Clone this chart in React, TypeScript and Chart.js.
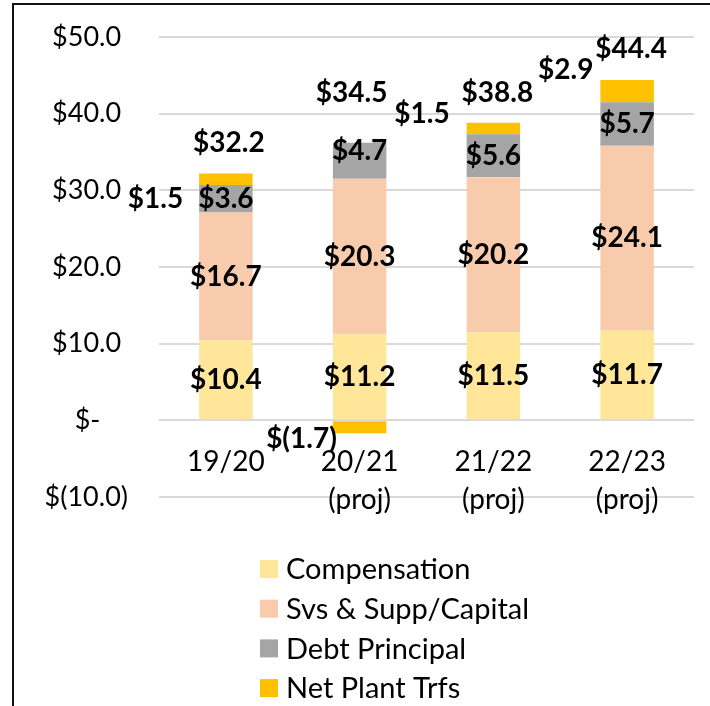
import React, { useEffect, useRef } from 'react';
import { Chart, registerables } from 'chart.js';

Chart.register(...registerables);

// ---- data ----
const categories: (string | string[])[] = ['19/20', ['20/21', '(proj)'], ['21/22', '(proj)'], ['22/23', '(proj)']];
const compensation = [10.4, 11.2, 11.5, 11.7];
const svsSuppCapital = [16.7, 20.3, 20.2, 24.1];
const debtPrincipal = [3.6, 4.7, 5.6, 5.7];
const netPlantTrfs = [1.5, -1.7, 1.5, 2.9];
const seriesNames = ['Compensation', 'Svs & Supp/Capital', 'Debt Principal', 'Net Plant Trfs'];
const yMin = -10;
const yMax = 50;
const yStep = 10;

// ---- style ----
const seriesColors = ['#FFE699', '#F8CBAD', '#A5A5A5', '#FFC000'];
const FONT = 'Lato, "Open Sans", sans-serif';

// label nudges (px)
const netPlantLabelDX = [-16, 4, -17, -7];
const netPlantLabelDY = [20, 12, -15, -21];
const totalLabelDX = [3, -8, 4, 4];
const totalLabelDY = [-30, -50, -30, -31];
const segLabelDY = [
  [0, 0, 0, 0],
  [0, 0, 0, 0],
  [0, -10, 0, 0],
];

const fmt = (v: number) => (v < 0 ? `$(${Math.abs(v).toFixed(1)})` : `$${v.toFixed(1)}`);

const framePlugin = {
  id: 'frame',
  beforeDraw(chart: any) {
    const { ctx, width, height } = chart;
    ctx.save();
    ctx.fillStyle = '#ffffff';
    ctx.fillRect(0, 0, width, height);
    ctx.fillStyle = '#111111';
    ctx.fillRect(12, 3, 2, height);
    ctx.fillRect(12, 3, width, 2);
    ctx.restore();
  },
};

const labelPlugin = {
  id: 'valueLabels',
  afterDatasetsDraw(chart: any) {
    const ctx = chart.ctx;
    ctx.save();
    ctx.font = `bold 28px ${FONT}`;
    ctx.fillStyle = '#000000';
    ctx.textBaseline = 'middle';
    chart.data.datasets.forEach((ds: any, di: number) => {
      const meta = chart.getDatasetMeta(di);
      meta.data.forEach((bar: any, i: number) => {
        const { x, y, base, width } = bar.getProps(['x', 'y', 'base', 'width'], true);
        const v = ds.data[i];
        const cy = (y + base) / 2;
        if (di === 3) {
          ctx.textAlign = 'right';
          ctx.fillText(fmt(v), x - width / 2 + netPlantLabelDX[i], cy + netPlantLabelDY[i]);
        } else {
          ctx.textAlign = 'center';
          ctx.fillText(fmt(v), x, cy + segLabelDY[di][i]);
        }
      });
    });
    const yScale = chart.scales.y;
    const meta0 = chart.getDatasetMeta(0);
    categories.forEach((_, i) => {
      const vals = chart.data.datasets.map((ds: any) => ds.data[i] as number);
      const total = vals.reduce((a: number, b: number) => a + b, 0);
      const posTop = vals.filter((v: number) => v > 0).reduce((a: number, b: number) => a + b, 0);
      const x = meta0.data[i].x;
      ctx.textAlign = 'center';
      ctx.fillText(fmt(total), x + totalLabelDX[i], yScale.getPixelForValue(posTop) + totalLabelDY[i]);
    });
    ctx.restore();
  },
};

const legendPlugin = {
  id: 'verticalLegend',
  afterDraw(chart: any) {
    const { ctx, chartArea } = chart;
    ctx.save();
    ctx.font = `29px ${FONT}`;
    ctx.textBaseline = 'middle';
    ctx.textAlign = 'left';
    chart.data.datasets.forEach((ds: any, i: number) => {
      const cy = chartArea.bottom + 72 + i * 39.7;
      const bx = chartArea.left + 101;
      ctx.fillStyle = ds.backgroundColor;
      ctx.fillRect(bx, cy - 9, 18, 18);
      ctx.fillStyle = '#000000';
      ctx.fillText(ds.label, bx + 26, cy + 1);
    });
    ctx.restore();
  },
};

export default function App() {
  const ref = useRef<HTMLCanvasElement | null>(null);
  useEffect(() => {
    if (!ref.current) return;
    const series = [compensation, svsSuppCapital, debtPrincipal, netPlantTrfs];
    const chart = new Chart(ref.current, {
      type: 'bar',
      data: {
        labels: categories as any,
        datasets: series.map((d, i) => ({
          label: seriesNames[i],
          data: d,
          backgroundColor: seriesColors[i],
          borderWidth: 0,
          barPercentage: 0.4,
          categoryPercentage: 1.0,
        })),
      },
      options: {
        responsive: false,
        animation: false,
        layout: { padding: { left: 0, top: 37, right: 16, bottom: 209 } },
        plugins: {
          legend: { display: false },
          tooltip: { enabled: false },
        },
        scales: {
          x: {
            stacked: true,
            position: { y: 0 } as any,
            grid: { display: false, drawTicks: false },
            border: { display: false },
            afterFit: (s: any) => {
              s.paddingLeft = 0;
              s.paddingRight = 0;
            },
            ticks: {
              color: '#000000',
              font: { family: FONT, size: 28, lineHeight: 1.35 },
              padding: 23,
              maxRotation: 0,
              autoSkip: false,
            },
          },
          y: {
            stacked: true,
            min: yMin,
            max: yMax,
            afterFit: (s: any) => {
              s.width = 159;
              s.paddingTop = 0;
              s.paddingBottom = 0;
            },
            grid: { color: '#D9D9D9', lineWidth: 2, drawTicks: false },
            border: { display: false },
            ticks: {
              stepSize: yStep,
              color: '#000000',
              padding: 31,
              font: { family: FONT, size: 27 },
              callback: (v: any) =>
                v === 0 ? '$-    ' : v < 0 ? `$(${Math.abs(v).toFixed(1)})` : `$${Number(v).toFixed(1)} `,
            },
          },
        },
      },
      plugins: [framePlugin, labelPlugin, legendPlugin],
    });
    return () => chart.destroy();
  }, []);
  return (
    <div style={{ position: 'fixed', left: 0, top: 0, width: 710, height: 706 }}>
      <canvas ref={ref} width={710} height={706} style={{ display: 'block' }} />
    </div>
  );
}
